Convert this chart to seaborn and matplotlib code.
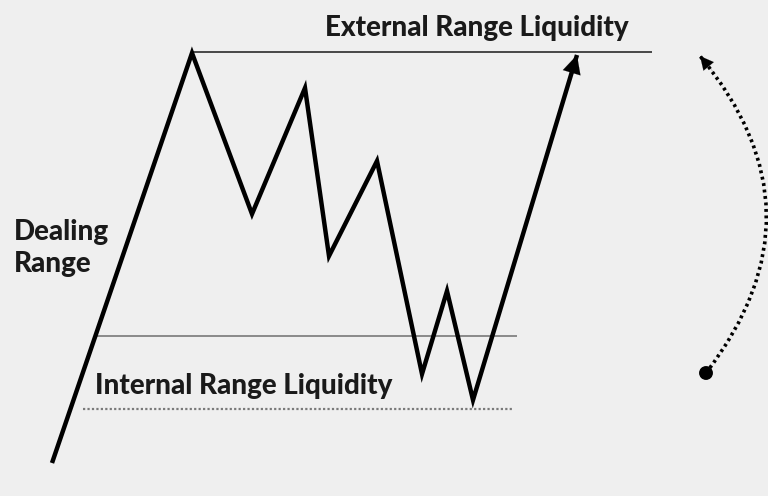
import matplotlib
matplotlib.use("Agg")
import matplotlib.pyplot as plt
import seaborn as sns
import pandas as pd
from matplotlib.patches import FancyArrowPatch

# price path (pixel coords, y grows downward)
path_x = [52, 192, 252, 305, 329, 377, 422, 447, 473, 577]
path_y = [463, 53, 214, 88, 256, 161, 374, 291, 400, 55]

# reference levels
external_y = 52
external_x = [192, 652]
internal_y = 336
internal_x = [94, 517]
dotted_y = 409
dotted_x = [83, 512]

# curved dotted arrow on the right
arc_start = (706, 373)
arc_end = (700, 56)
arc_rad = 0.4

bg = "#efefef"

sns.set_theme(style="white")
plt.rcParams['font.family'] = ['Lato', 'DejaVu Sans']

fig = plt.figure(figsize=(7.68, 4.96), dpi=100, facecolor=bg)
ax = fig.add_axes([0, 0, 1, 1])
ax.set_facecolor(bg)
ax.set_xlim(0, 768)
ax.set_ylim(496, 0)
ax.axis("off")

# level lines
ax.hlines(external_y, *external_x, color="#3a3a3a", lw=1.3)
ax.hlines(internal_y, *internal_x, color="#8a8a8a", lw=1.4)
ax.hlines(dotted_y, *dotted_x, color="#7a7a7a", lw=1.6, linestyles=(0, (1, 1)))

# price path
df = pd.DataFrame({"x": path_x, "y": path_y})
sns.lineplot(data=df, x="x", y="y", sort=False, color="black", lw=3.2, ax=ax,
             solid_joinstyle="miter", solid_capstyle="butt")
ax.annotate("", xy=(path_x[-1], path_y[-1]), xytext=(path_x[-2], path_y[-2]),
            arrowprops=dict(arrowstyle="-|>,head_length=1.1,head_width=0.55",
                            color="black", lw=0.1, shrinkA=0, shrinkB=0))

# dotted curved arrow
arc = FancyArrowPatch(arc_start, arc_end, connectionstyle=f"arc3,rad={arc_rad}",
                      arrowstyle="-", linestyle=(0, (0.8, 1.0)), lw=2.6,
                      color="black", shrinkA=0, shrinkB=0, capstyle="butt")
ax.add_patch(arc)
# tangent at the end of the arc (control point of the quadratic curve)
mx = (arc_start[0] + arc_end[0]) / 2
my = (arc_start[1] + arc_end[1]) / 2
ddx = arc_end[0] - arc_start[0]
ddy = -(arc_end[1] - arc_start[1])
cx = mx + arc_rad * ddy
cy = my + arc_rad * ddx
tail = (arc_end[0] - 0.1 * (arc_end[0] - cx), arc_end[1] - 0.1 * (arc_end[1] - cy))
ax.annotate("", xy=arc_end, xytext=tail,
            arrowprops=dict(arrowstyle="-|>,head_length=0.8,head_width=0.4",
                            color="black", lw=0.1, shrinkA=0, shrinkB=0))
sns.scatterplot(x=[arc_start[0]], y=[arc_start[1]], s=100, color="black",
                edgecolor="none", ax=ax)

# labels
ax.text(477, 28, "External Range Liquidity", ha="center", va="center",
        fontsize=20, fontweight="black", color="#1a1a1a")
ax.text(14, 248, "Dealing\nRange", ha="left", va="center",
        fontsize=20, fontweight="black", color="#1a1a1a", linespacing=1.32)
ax.text(95, 386, "Internal Range Liquidity", ha="left", va="center",
        fontsize=20, fontweight="black", color="#1a1a1a")

fig.savefig("out.png", dpi=100, facecolor=bg)
